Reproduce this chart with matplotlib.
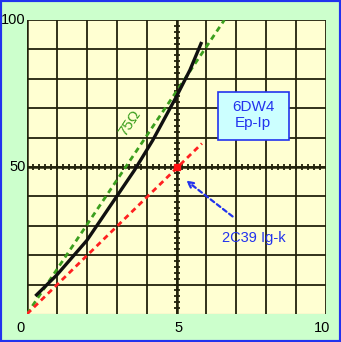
import numpy as np
import matplotlib.pyplot as plt
from matplotlib.patches import Rectangle

# Ep-Ip curve of 6DW4
ep = [0.32, 1.0, 2.0, 3.0, 3.6, 4.2, 5.0, 5.45, 5.82]
ip = [6.5, 13.3, 25, 40, 49, 59, 74, 83, 92]

# 75 ohm load line and 2C39 Ig-k line
load_x = [0, 6.6]
load_y = [0, 100]
igk_x = [0, 5.85]
igk_y = [0, 58]
op_point = (5, 50)

bg = '#ccffcc'
paper = '#ffffd2'
ink = '#22220c'
blue = '#2233ee'
font = 'Liberation Sans'

fig = plt.figure(figsize=(3.41, 3.42), dpi=100, facecolor=bg)
fig.add_artist(Rectangle((0, 0), 1, 1, transform=fig.transFigure, fill=False,
                         edgecolor=blue, linewidth=3))
ax = fig.add_axes([27 / 341, 28 / 342, 299 / 341, 294 / 342])
ax.set_facecolor(paper)
ax.set_xlim(0, 10)
ax.set_ylim(0, 100)

# graph paper grid
for x in range(1, 11):
    ax.axvline(x, color=ink, lw=1.3, zorder=1)
for y in range(10, 101, 10):
    ax.axhline(y, color=ink, lw=1.3, zorder=1)
for s in ax.spines.values():
    s.set_visible(False)
ax.axvline(0, color=ink, lw=1.8, zorder=1)
ax.axhline(0, color=ink, lw=0.8, alpha=0.4, zorder=1)

# center crosshair with small ticks
hx = np.arange(0.2, 9.9, 0.2)
vy = np.arange(2, 99, 2)
ax.plot(hx, np.full(len(hx), 50), ls='none', marker='|', ms=5, mew=1.3,
        color=ink, zorder=2)
ax.plot(np.full(len(vy), 5), vy, ls='none', marker='_', ms=5, mew=1.3,
        color=ink, zorder=2)
ax.axhline(50, color=ink, lw=1.8, zorder=2)
ax.axvline(5, color=ink, lw=1.8, zorder=2)

ax.set_xticks([])
ax.set_yticks([])

ax.plot(load_x, load_y, ls=(0, (2, 1.5)), color='#3c9f1e', lw=2, zorder=3)
ax.plot(igk_x, igk_y, ls=(0, (2, 1.5)), color='#ff2020', lw=2, zorder=3)
ax.plot(ep, ip, color='#101010', lw=2.4, zorder=4)
ax.plot([op_point[0]], [op_point[1]], 's', color='#ff1010', ms=5, zorder=5)

ax.annotate('', xy=(5.25, 46), xytext=(6.95, 32.6),
            arrowprops=dict(arrowstyle='->', color=blue, lw=1.6,
                            ls=(0, (2, 1.5))), zorder=5)
ax.text(7.6, 26, '2C39 Ig-k', color=blue, fontsize=10.5,
        ha='center', va='center', family=font)
ax.add_patch(Rectangle((6.4, 59.2), 2.37, 16.3, facecolor='#ccffff',
                       edgecolor=blue, lw=1.2, zorder=6))
ax.text(7.56, 70.4, '6DW4', color=blue, fontsize=11, ha='center',
        va='center', family=font, zorder=7)
ax.text(7.56, 64.8, 'Ep-Ip', color=blue, fontsize=11, ha='center',
        va='center', family=font, zorder=7)
ax.text(3.45, 65, '75Ω', color='#3c9f1e', fontsize=11, rotation=56,
        ha='center', va='center', family=font)

# axis labels
lab = dict(fontsize=10.5, family=font, color='black', clip_on=False)
ax.text(-0.23, -4.8, '0', ha='center', va='center', **lab)
ax.text(5.08, -4.8, '5', ha='center', va='center', **lab)
ax.text(9.87, -4.8, '10', ha='center', va='center', **lab)
ax.text(-0.05, 100, '100', ha='right', va='center', **lab)
ax.text(-0.05, 50, '50', ha='right', va='center', **lab)

fig.savefig('out.png', dpi=100, facecolor=bg)
